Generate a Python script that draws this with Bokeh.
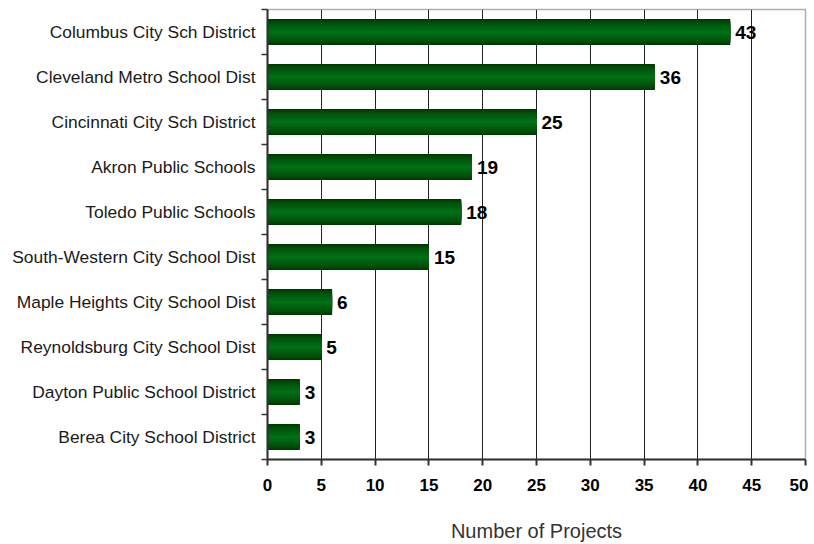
from bokeh.plotting import figure
from bokeh.models import FixedTicker, ColumnDataSource, Range1d
from bokeh.embed import file_html
from bokeh.resources import INLINE
from bokeh.core.properties import value

categories = [
    "Columbus City Sch District",
    "Cleveland Metro School Dist",
    "Cincinnati City Sch District",
    "Akron Public Schools",
    "Toledo Public Schools",
    "South-Western City School Dist",
    "Maple Heights City School Dist",
    "Reynoldsburg City School Dist",
    "Dayton Public School District",
    "Berea City School District",
]
projects = [43, 36, 25, 19, 18, 15, 6, 5, 3, 3]
x_ticks = [0, 5, 10, 15, 20, 25, 30, 35, 40, 45, 50]

n = len(categories)
# position of each category (top to bottom)
ypos = [n - 0.5 - i for i in range(n)]

p = figure(
    output_backend="svg", toolbar_location=None,
    frame_width=538, frame_height=450,
    min_border_left=267, min_border_right=3, min_border_top=9, min_border_bottom=84,
    x_range=Range1d(0, 50), y_range=Range1d(0, n),
)
p.background_fill_color = "white"
p.border_fill_color = "white"
p.outline_line_color = "#b0b0b0"
p.outline_line_width = 1.5

# vertical grid
p.xgrid.ticker = FixedTicker(ticks=x_ticks[1:-1])
p.xgrid.grid_line_color = "#222222"
p.xgrid.grid_line_width = 1
p.ygrid.grid_line_color = None

src = ColumnDataSource(dict(y=ypos, right=projects, label=[str(v) for v in projects]))

# gradient bars via layered hbars
H = 0.58
N = 14
dark = (0x00, 0x36, 0x00)
light = (0x00, 0x70, 0x16)
for k in range(N):
    t = k / (N - 1)
    h = H * (1 - k / N)
    c = tuple(int(round(dark[j] + (light[j] - dark[j]) * (t ** 0.7))) for j in range(3))
    p.hbar(y="y", right="right", left=0, height=h, source=src,
           fill_color="#%02x%02x%02x" % c, line_color=None)

p.text(x="right", y="y", text="label", source=src, x_offset=5, y_offset=0,
       text_font=value("Liberation Sans"), text_font_style="bold",
       text_font_size="19px", text_baseline="middle", text_align="left",
       text_color="black")

# x axis
p.xaxis.ticker = FixedTicker(ticks=x_ticks)
p.xaxis.axis_label = "Number of Projects"
p.xaxis.axis_label_text_font = "Liberation Sans"
p.xaxis.axis_label_text_font_style = "normal"
p.xaxis.axis_label_text_font_size = "20px"
p.xaxis.axis_label_text_color = "#333333"
p.xaxis.axis_label_standoff = 26
p.xaxis.major_label_text_font = "Liberation Sans"
p.xaxis.major_label_text_font_style = "bold"
p.xaxis.major_label_text_font_size = "17px"
p.xaxis.major_label_text_color = "black"
p.xaxis.major_label_standoff = 13
p.xaxis.major_tick_out = 6
p.xaxis.major_tick_in = 0
p.xaxis.minor_tick_out = 0
p.xaxis.minor_tick_in = 0
p.xaxis.axis_line_color = "#333333"
p.xaxis.axis_line_width = 2
p.xaxis.major_tick_line_color = "#333333"
p.xaxis.major_tick_line_width = 2

# y axis: labels at centers, tick marks at boundaries
p.yaxis.ticker = FixedTicker(ticks=ypos, minor_ticks=list(range(n + 1)))
p.yaxis.major_label_overrides = {ypos[i]: categories[i] for i in range(n)}
p.yaxis.major_label_text_font = "Liberation Sans"
p.yaxis.major_label_text_font_size = "17.4px"
p.yaxis.major_label_text_color = "#1a1a1a"
p.yaxis.major_label_standoff = 6
p.yaxis.major_tick_out = 0
p.yaxis.major_tick_in = 0
p.yaxis.minor_tick_out = 6
p.yaxis.minor_tick_in = 0
p.yaxis.minor_tick_line_color = "#333333"
p.yaxis.minor_tick_line_width = 1.5
p.yaxis.axis_line_color = "#333333"
p.yaxis.axis_line_width = 2

open("out.html", "w").write(file_html(p, INLINE))
